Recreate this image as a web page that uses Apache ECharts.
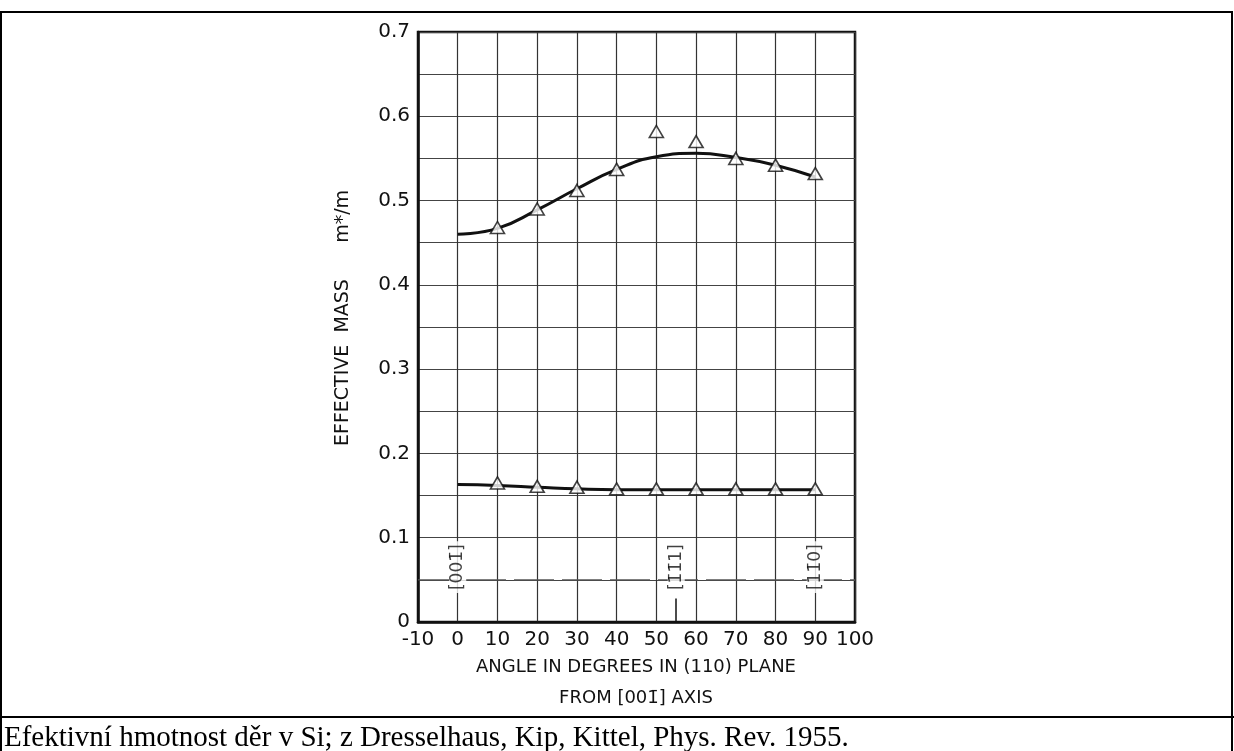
<!DOCTYPE html>
<html><head><meta charset="utf-8">
<script src="https://cdn.jsdelivr.net/npm/echarts@6/dist/echarts.min.js"></script>
<style>html,body{margin:0;background:#fff}#c{width:1234px;height:751px}</style>
</head><body><div id="c"></div>
<script>
// angle in degrees, effective mass m*/m
const angles = [0, 10, 20, 30, 40, 50, 60, 70, 80, 90];
const heavyCurve = [0.460, 0.467, 0.489, 0.514, 0.537, 0.552, 0.556, 0.551, 0.542, 0.528];
const heavyPoints = [null, 0.468, 0.490, 0.512, 0.537, 0.582, 0.570, 0.550, 0.542, 0.532];
const lightCurve = [0.163, 0.162, 0.160, 0.158, 0.157, 0.157, 0.157, 0.157, 0.157, 0.157];
const lightPoints = [null, 0.165, 0.161, 0.160, 0.158, 0.158, 0.158, 0.158, 0.158, 0.158];
const dirLabels = [[0, '[001\u0304]'], [55, '[1\u03041\u03041]'], [90, '[11\u03040]']];

const pair = (xs, ys) => xs.map((x, i) => [x, ys[i]]).filter(p => p[1] != null);
const font = 'DejaVu Sans';
const ink = '#111';

const chart = echarts.init(document.getElementById('c'));
chart.setOption({
    animation: false,
    grid: { left: 418, top: 32, width: 437, height: 590, show: true,
            borderColor: ink, borderWidth: 2.5, backgroundColor: 'transparent' },
    xAxis: {
        type: 'value', min: -10, max: 100, interval: 10,
        axisLine: { onZero: false, lineStyle: { color: ink, width: 2.5 } },
        axisTick: { show: false },
        axisLabel: { color: ink, fontSize: 20, fontFamily: font, margin: 8 },
        splitLine: { lineStyle: { color: '#333', width: 1.2 } }
    },
    yAxis: {
        type: 'value', min: 0, max: 0.7, interval: 0.05,
        axisLine: { onZero: false, lineStyle: { color: ink, width: 2.5 } },
        axisTick: { show: false },
        axisLabel: {
            color: ink, fontSize: 20, fontFamily: font, margin: 8,
            formatter: v => (Math.round(v * 100) % 10 === 0 ? (v === 0 ? '0' : v.toFixed(1)) : '')
        },
        splitLine: { lineStyle: { color: '#444', width: 1.2 } }
    },
    series: [
        { type: 'line', smooth: true, data: pair(angles, heavyCurve), showSymbol: false,
          lineStyle: { color: ink, width: 3 }, z: 3 },
        { type: 'line', smooth: true, data: pair(angles, lightCurve), showSymbol: false,
          lineStyle: { color: ink, width: 3 }, z: 3 },
        { type: 'scatter', data: pair(angles, heavyPoints).concat(pair(angles, lightPoints)),
          symbol: 'triangle', symbolSize: [14, 12],
          itemStyle: { color: '#fff', borderColor: ink, borderWidth: 1.6 }, z: 4 },
        { type: 'line', data: [[-10, 0.05], [100, 0.05]], showSymbol: false, silent: true,
          lineStyle: { color: '#555', width: 1.2, type: [40, 8] }, z: 2,
          markLine: {
              silent: true, symbol: 'none', label: { show: false },
              lineStyle: { color: ink, width: 1.5, type: 'solid' },
              data: [[{ coord: [55, 0] }, { coord: [55, 0.028] }]]
          }
        },
        { type: 'scatter', data: dirLabels.map(d => ({ value: [d[0], 0.065], name: d[1] })),
          symbolSize: 1, itemStyle: { color: 'transparent' }, z: 5,
          label: { show: true, formatter: p => p.name, rotate: 90, position: 'inside',
                   color: ink, fontSize: 17, fontFamily: font,
                   backgroundColor: '#fff', padding: [0, 3] } }
    ],
    graphic: [
        { type: 'rect', shape: { x: 1, y: 12, width: 1231, height: 760 }, silent: true,
          style: { fill: 'none', stroke: '#000', lineWidth: 2 } },
        { type: 'line', shape: { x1: 0, y1: 717, x2: 1234, y2: 717 },
          style: { stroke: '#000', lineWidth: 2 } },
        { type: 'text', left: 4, top: 724,
          style: { text: 'Efektivní hmotnost děr v Si; z Dresselhaus, Kip, Kittel, Phys. Rev. 1955.',
                   font: '29px "Liberation Serif"', fill: '#000' } },
        { type: 'text', x: 636, y: 667,
          style: { text: 'ANGLE IN DEGREES IN (110) PLANE', font: '18px "DejaVu Sans"',
                   fill: ink, align: 'center', verticalAlign: 'middle' } },
        { type: 'text', x: 636, y: 698,
          style: { text: 'FROM [001\u0304] AXIS', font: '18px "DejaVu Sans"',
                   fill: ink, align: 'center', verticalAlign: 'middle' } },
        { type: 'text', x: 343, y: 318, rotation: Math.PI / 2,
          style: { text: 'EFFECTIVE  MASS      m*/m', font: '19px "DejaVu Sans"',
                   fill: ink, align: 'center', verticalAlign: 'middle' } }
    ]
});
</script></body></html>
